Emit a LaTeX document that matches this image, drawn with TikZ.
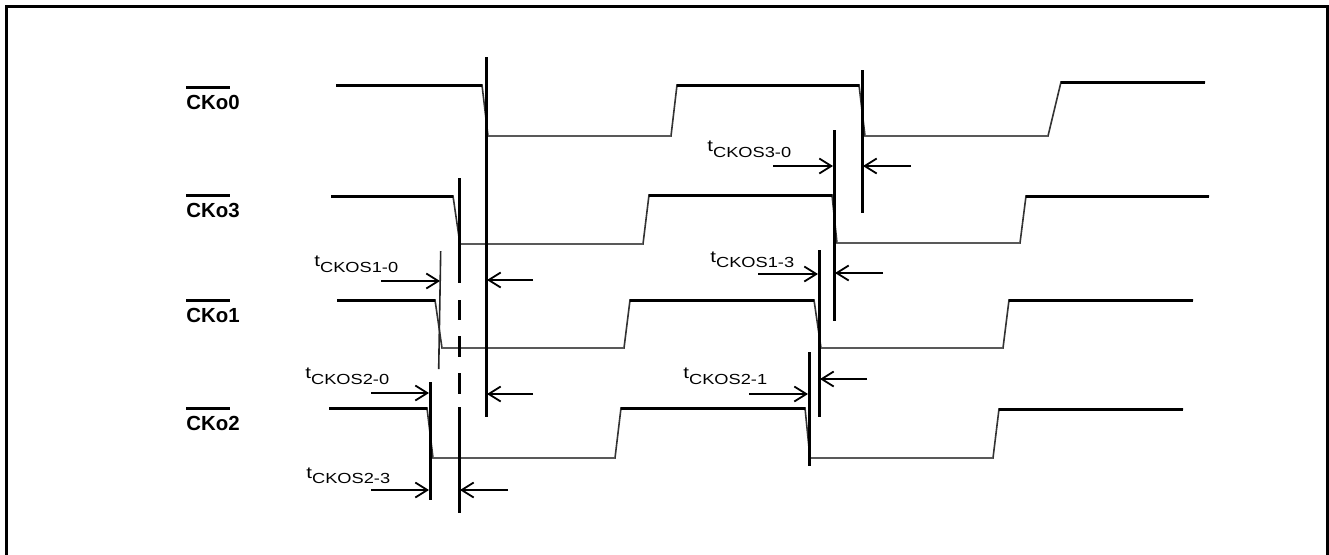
\documentclass[tikz,border=0pt]{standalone}
\usepackage{fontspec}
\setmainfont{Liberation Sans}
\usepackage{graphicx}
\usetikzlibrary{arrows.meta,calc}
\newcommand{\tlab}[1]{\scalebox{1.25}[1]{\fontsize{8.2}{10}\selectfont t\raisebox{-2.8pt}{\fontsize{7.3}{9}\selectfont #1}}}
\tikzset{
  sig/.style={line width=0.8pt, black!80, line join=miter},
  hi/.style={line width=1.5pt, black},
  lo/.style={line width=1.1pt, black!65},
  vmark/.style={line width=1.5pt, black},
  thinmark/.style={line width=0.8pt, black!85},
  dim/.style={line width=1.4pt, black, -{Straight Barb[length=6pt,width=7.5pt,line width=0.9pt]}},
  sname/.style={anchor=base west, inner sep=0pt, font=\bfseries\fontsize{10.2}{12}\selectfont},
  tname/.style={anchor=base west, inner sep=0pt},
  frame/.style={line width=1.5pt, black}
}
\begin{document}
\begin{tikzpicture}[x=0.5pt,y=-0.5pt]
\useasboundingbox (0,0) rectangle (1329,554);
\draw[frame] (6.5,570) -- (6.5,6.5) -- (1327,6.5) -- (1327,570);

% signal names
\node[sname] (n0) at (186,109.3) {CKo0};
\node[sname] (n3) at (186,217.5) {CKo3};
\node[sname] (n1) at (186,322.3) {CKo1};
\node[sname] (n2) at (186,430.7) {CKo2};
\foreach \n in {n0,n3,n1,n2}
  \draw[hi] ($(\n.base west)+(0,-22)$) -- ++(44,0);

% CKo0
\draw[sig] (336,85) -- (482,85) -- (488,136) -- (671,136) -- (677,85) -- (859,85) -- (865,136) -- (1048,136) -- (1061,82) -- (1205,82);
\draw[hi] (336,85) -- (482,85) (677,85) -- (859,85) (1061,82) -- (1205,82);
\draw[lo] (488,136) -- (671,136) (865,136) -- (1048,136);
% CKo3
\draw[sig] (331,196) -- (453,196) -- (460,244) -- (643,244) -- (649,195) -- (832,195) -- (837,243) -- (1020,243) -- (1026,196) -- (1209,196);
\draw[hi] (331,196) -- (453,196) (649,195) -- (832,195) (1026,196) -- (1209,196);
\draw[lo] (460,244) -- (643,244) (837,243) -- (1020,243);
% CKo1
\draw[sig] (337,300) -- (435,300) -- (442,348) -- (624,348) -- (630,300) -- (814,300) -- (821,348) -- (1003,348) -- (1009,300) -- (1193,300);
\draw[hi] (337,300) -- (435,300) (630,300) -- (814,300) (1009,300) -- (1193,300);
\draw[lo] (442,348) -- (624,348) (821,348) -- (1003,348);
% CKo2
\draw[sig] (329,408) -- (427,408) -- (433,458) -- (615,458) -- (621,408) -- (805,408) -- (810,458) -- (993,458) -- (999,409) -- (1183,409);
\draw[hi] (329,408) -- (427,408) (621,408) -- (805,408) (999,409) -- (1183,409);
\draw[lo] (433,458) -- (615,458) (810,458) -- (993,458);

% marker lines
\draw[vmark] (486,57) -- (486,417);
\draw[vmark] (459,178) -- (459,283) (459,300) -- (459,320) (459,336) -- (459,357) (459,373) -- (459,394) (459,407) -- (459,513);
\draw[thinmark] (440.7,251) -- (438.7,369);
\draw[vmark] (430,382) -- (430,500);
\draw[vmark] (834,130) -- (834,321);
\draw[vmark] (862,70) -- (862,213);
\draw[vmark] (819,250) -- (819,417);
\draw[vmark] (809,352) -- (809,466);

% dimension arrows
\draw[dim] (381,281) -- (440,281);
\draw[dim] (533,280) -- (487,280);
\draw[dim] (371,393) -- (429,393);
\draw[dim] (533,394) -- (487,394);
\draw[dim] (371,490) -- (429,490);
\draw[dim] (508,490) -- (460,490);
\draw[dim] (773,166) -- (833,166);
\draw[dim] (911,166) -- (863,166);
\draw[dim] (758,274) -- (818,274);
\draw[dim] (883,273) -- (835,273);
\draw[dim] (749,394) -- (808,394);
\draw[dim] (867,379) -- (820,379);

% timing labels
\node[tname] (t30) at (707,151.7) {\tlab{CKOS3-0}};
\node[tname] (t10) at (314,266.5) {\tlab{CKOS1-0}};
\node[tname] (t13) at (710,262) {\tlab{CKOS1-3}};
\node[tname] (t20) at (305,378.5) {\tlab{CKOS2-0}};
\node[tname] (t21) at (683,378.5) {\tlab{CKOS2-1}};
\node[tname] (t23) at (306,478) {\tlab{CKOS2-3}};
\end{tikzpicture}
\end{document}
